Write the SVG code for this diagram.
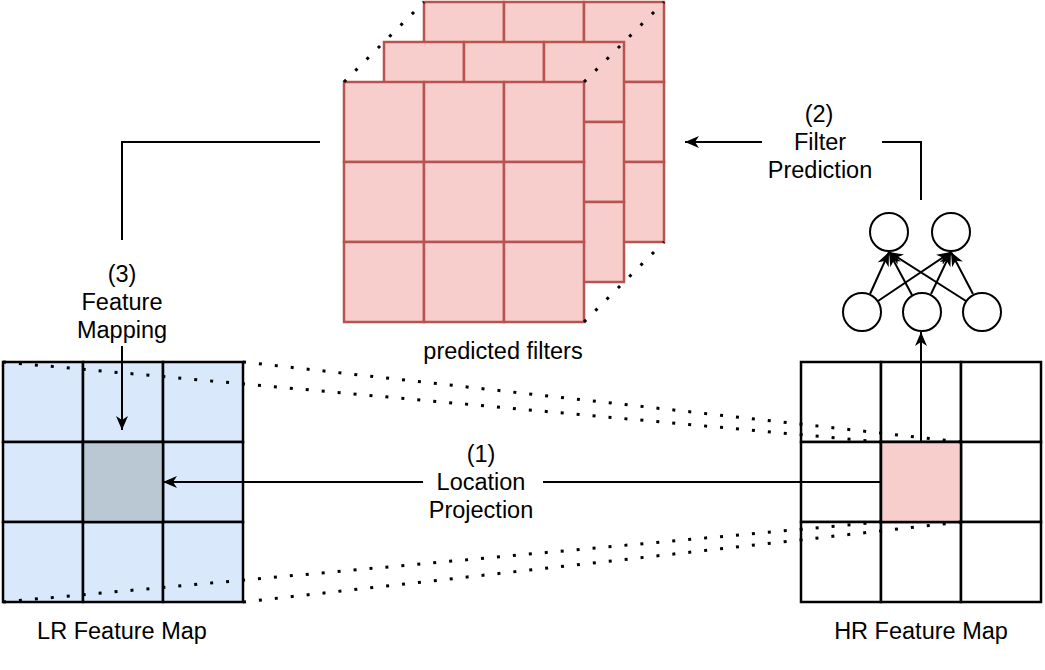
<svg xmlns="http://www.w3.org/2000/svg" width="1045" height="670" viewBox="0 0 1045 670">
<defs>
<style>
.t{font-family:"Liberation Sans",Arial,sans-serif;font-size:23.5px;fill:#000;text-anchor:middle}
.pk{fill:#f8cecc;stroke:#b85450;stroke-width:2.5}
.lr{fill:#dae8fc;stroke:#000;stroke-width:2.5}
.hr{fill:#fff;stroke:#000;stroke-width:2.5}
.ln{fill:none;stroke:#000;stroke-width:2}
.dot{fill:none;stroke:#000;stroke-width:3;stroke-dasharray:3 13}
.nn{fill:#fff;stroke:#000;stroke-width:2}
</style>
<marker id="ah" viewBox="0 0 14 12" refX="14" refY="6" markerWidth="14" markerHeight="12" markerUnits="userSpaceOnUse" orient="auto">
<path d="M0,0 L14,6 L0,12 L4,6 Z" fill="#000"/>
</marker>
<g id="cell3">
<rect x="0" y="0" width="80" height="80"/><rect x="80" y="0" width="80" height="80"/><rect x="160" y="0" width="80" height="80"/>
<rect x="0" y="80" width="80" height="80"/><rect x="80" y="80" width="80" height="80"/><rect x="160" y="80" width="80" height="80"/>
<rect x="0" y="160" width="80" height="80"/><rect x="80" y="160" width="80" height="80"/><rect x="160" y="160" width="80" height="80"/>
</g>
</defs>
<rect width="1045" height="670" fill="#fff"/>

<g id="filters">
<use href="#cell3" x="424" y="2" class="pk"/>
<use href="#cell3" x="384" y="42" class="pk"/>
<use href="#cell3" x="344" y="82" class="pk"/>
<line class="dot" x1="344" y1="82" x2="424" y2="2"/>
<line class="dot" x1="584" y1="82" x2="664" y2="2"/>
<line class="dot" x1="584" y1="322" x2="664" y2="242"/>
<text class="t" x="503" y="359">predicted filters</text>
</g>

<g id="lr-map">
<use href="#cell3" x="3" y="362" class="lr"/>
<rect x="83" y="442" width="80" height="80" fill="#bac8d3" stroke="#000" stroke-width="2.5"/>
<text class="t" x="122" y="639">LR Feature Map</text>
</g>

<g id="hr-map">
<use href="#cell3" x="801" y="362" class="hr"/>
<rect x="881" y="442" width="80" height="80" fill="#f8cecc" stroke="#000" stroke-width="2.5"/>
<text class="t" x="921" y="639">HR Feature Map</text>
</g>

<g id="network">
<circle class="nn" cx="889" cy="232" r="19"/>
<circle class="nn" cx="951" cy="232" r="19"/>
<circle class="nn" cx="862" cy="312" r="19"/>
<circle class="nn" cx="922" cy="312" r="19"/>
<circle class="nn" cx="982" cy="312" r="19"/>
<g class="ln">
<line x1="870" y1="294" x2="889" y2="252" marker-end="url(#ah)"/>
<line x1="878" y1="301" x2="951" y2="252" marker-end="url(#ah)"/>
<line x1="912" y1="295" x2="889" y2="252" marker-end="url(#ah)"/>
<line x1="931" y1="294" x2="951" y2="252" marker-end="url(#ah)"/>
<line x1="966" y1="301" x2="889" y2="252" marker-end="url(#ah)"/>
<line x1="973" y1="294" x2="951" y2="252" marker-end="url(#ah)"/>
</g>
</g>

<g id="connectors">
<line class="dot" x1="3" y1="362" x2="881" y2="442"/>
<line class="dot" x1="243" y1="362" x2="961" y2="442"/>
<line class="dot" x1="3" y1="602" x2="881" y2="522"/>
<line class="dot" x1="243" y1="602" x2="961" y2="522"/>

<line class="ln" x1="881" y1="482" x2="543" y2="482"/>
<line class="ln" x1="423" y1="482" x2="163" y2="482" marker-end="url(#ah)"/>

<line class="ln" x1="921" y1="442" x2="921" y2="332" marker-end="url(#ah)"/>

<polyline class="ln" points="921,200 921,142 882,142"/>
<line class="ln" x1="762" y1="142" x2="685" y2="142" marker-end="url(#ah)"/>

<polyline class="ln" points="320,142 122,142 122,240"/>
<line class="ln" x1="122" y1="346" x2="122" y2="430" marker-end="url(#ah)"/>

<text class="t" x="481" y="462">(1)</text>
<text class="t" x="481" y="490">Location</text>
<text class="t" x="481" y="518">Projection</text>

<text class="t" x="819" y="122">(2)</text>
<text class="t" x="820" y="150">Filter</text>
<text class="t" x="820" y="178">Prediction</text>

<text class="t" x="122" y="282">(3)</text>
<text class="t" x="122" y="310">Feature</text>
<text class="t" x="122" y="338">Mapping</text>
</g>
</svg>
